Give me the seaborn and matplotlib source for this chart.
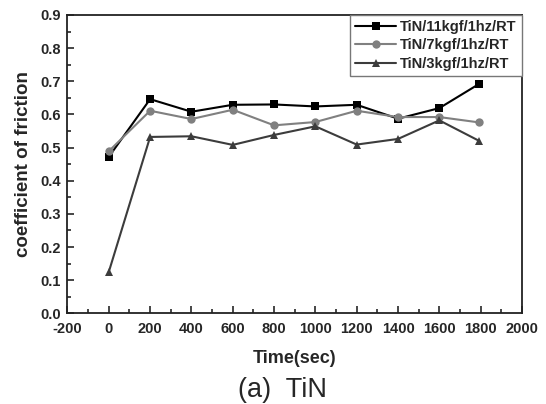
import matplotlib
matplotlib.use("Agg")
import matplotlib.pyplot as plt
import seaborn as sns
import pandas as pd
from matplotlib.ticker import MultipleLocator, FormatStrFormatter

time_sec = [0, 200, 400, 600, 800, 1000, 1200, 1400, 1600, 1790]
cof_11kgf = [0.472, 0.646, 0.608, 0.629, 0.630, 0.624, 0.629, 0.587, 0.619, 0.691]
cof_7kgf = [0.489, 0.611, 0.586, 0.614, 0.567, 0.577, 0.611, 0.592, 0.592, 0.576]
cof_3kgf = [0.125, 0.532, 0.534, 0.508, 0.538, 0.564, 0.509, 0.526, 0.582, 0.521]
series_names = ["TiN/11kgf/1hz/RT", "TiN/7kgf/1hz/RT", "TiN/3kgf/1hz/RT"]
series_colors = ["#000000", "#808080", "#3c3c3c"]
series_markers = ["s", "o", "^"]

sns.set_style("ticks")
plt.rcParams['font.family'] = ['Liberation Sans', 'DejaVu Sans']
plt.rcParams['axes.unicode_minus'] = False

rows = []
for name, vals in zip(series_names, [cof_11kgf, cof_7kgf, cof_3kgf]):
    for t, v in zip(time_sec, vals):
        rows.append({"Time(sec)": t, "cof": v, "series": name})
df = pd.DataFrame(rows)

fig = plt.figure(figsize=(5.46, 4.04), dpi=100)
ax = fig.add_axes([0.1236, 0.2245, 0.956 - 0.1236, 0.963 - 0.2245])

sns.lineplot(data=df, x="Time(sec)", y="cof", hue="series", style="series",
             hue_order=series_names, style_order=series_names,
             palette=dict(zip(series_names, series_colors)),
             markers=dict(zip(series_names, series_markers)),
             dashes=False, markersize=6, linewidth=1.5, markeredgewidth=0,
             ax=ax, legend=True)

ax.set_xlim(-200, 2000)
ax.set_ylim(0, 0.9)
ax.xaxis.set_major_locator(MultipleLocator(200))
ax.xaxis.set_minor_locator(MultipleLocator(100))
ax.yaxis.set_major_locator(MultipleLocator(0.1))
ax.yaxis.set_minor_locator(MultipleLocator(0.05))
ax.yaxis.set_major_formatter(FormatStrFormatter('%.1f'))
ax.tick_params(which='major', direction='in', length=5, width=1.2, labelsize=10.5,
               top=False, right=False)
ax.tick_params(axis='x', which='major', pad=6)
ax.tick_params(axis='y', which='major', pad=5)
ax.tick_params(which='minor', direction='in', length=3, width=1.2, top=False, right=False)
for lab in ax.get_xticklabels() + ax.get_yticklabels():
    lab.set_fontweight('bold')
for sp in ax.spines.values():
    sp.set_linewidth(1.3)
    sp.set_color('#222222')

ax.set_xlabel("Time(sec)", fontsize=13, fontweight='bold', labelpad=10)
ax.set_ylabel("coefficient of friction", fontsize=13.5, fontweight='bold', labelpad=6)

leg = ax.legend(loc='upper right', bbox_to_anchor=(1.0, 1.0), borderaxespad=0.0,
                fancybox=False, edgecolor='#777777', framealpha=1,
                prop={'weight': 'bold', 'size': 10.5}, handlelength=2.8,
                labelspacing=0.3, borderpad=0.35, handletextpad=0.3)
leg.get_frame().set_linewidth(1.0)

fig.text(282 / 546, 1 - 390 / 404, "(a)  TiN", fontsize=19.5, ha='center', va='center')

fig.savefig("out.png", dpi=100)
